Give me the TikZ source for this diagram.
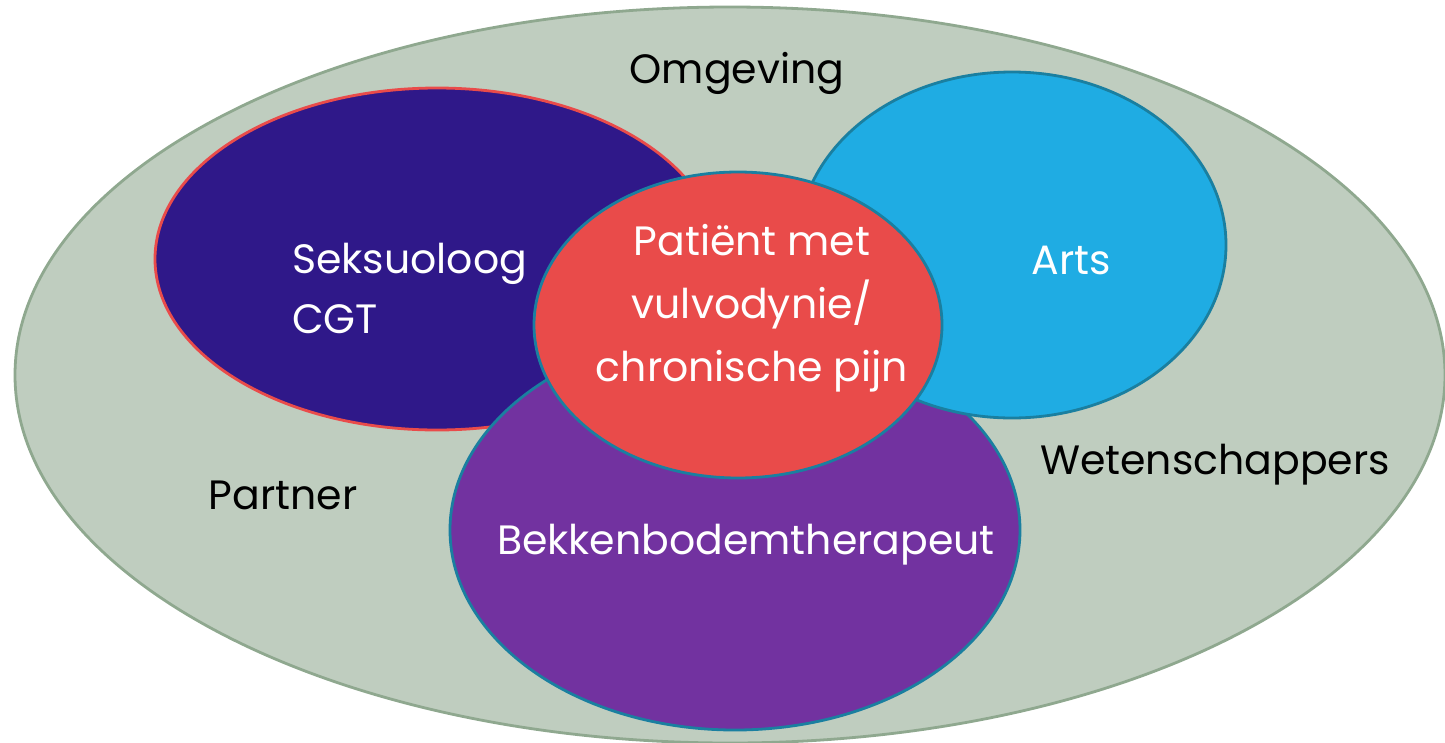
\documentclass[tikz,border=0pt]{standalone}
\usepackage{fontspec}
\setmainfont{Poppins}
\usepackage{tikz}
\usetikzlibrary{positioning,shapes.geometric}
\definecolor{omgfill}{HTML}{BFCDBF}
\definecolor{omgline}{HTML}{8FA88F}
\definecolor{seksfill}{HTML}{2F1889}
\definecolor{patfill}{HTML}{E94B4A}
\definecolor{artsfill}{HTML}{1FACE3}
\definecolor{bekfill}{HTML}{7232A0}
\definecolor{blueline}{HTML}{1A7FA0}

\begin{document}
\begin{tikzpicture}[x=1pt,y=-1pt,font=\fontsize{41}{60}\selectfont,
	e/.style={draw,ellipse,inner sep=0pt,line width=2.8pt},
	wt/.style={text=white,align=center,inner sep=0pt},
	bt/.style={text=black,inner sep=0pt}]
	\useasboundingbox (0,0) rectangle (1445,742);
	%outer
	\node(omg)[e,fill=omgfill,draw=omgline,minimum width=1430,minimum height=736] at (730,375){};
	%rings
	\node(seks)[e,fill=seksfill,draw=patfill,minimum width=564,minimum height=342] at (437,259){};
	\node(bek)[e,fill=bekfill,draw=blueline,minimum width=570,minimum height=400] at (735,530){};
	\node(arts)[e,fill=artsfill,draw=blueline,minimum width=428,minimum height=346] at (1012,245){};
	\node(pat)[e,fill=patfill,draw=blueline,minimum width=408,minimum height=306] at (738,325){};
	%texts
	\node(tomg)[bt] at (737,73){Omgeving};
	\node(tseks)[wt,align=left,anchor=west] at (292,288){Seksuoloog\\CGT};
	\node(tpat)[wt,font=\fontsize{41}{63}\selectfont] at (752,308){Patiënt met\\vulvodynie/\\chronische pijn};
	\node(tarts)[wt] at (1071,260){Arts};
	\node(tbek)[wt] at (746,545){Bekkenbodemtherapeut};
	\node(tpart)[bt] at (283,495){Partner};
	\node(twet)[bt] at (1215,465){Wetenschappers};
\end{tikzpicture}
\end{document}
